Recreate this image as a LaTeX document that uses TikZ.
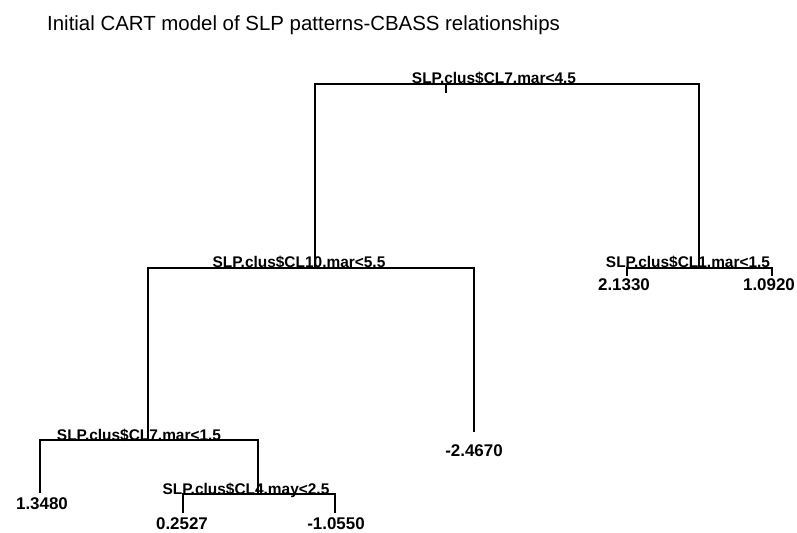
\documentclass[tikz,border=0pt]{standalone}
\usepackage{fontspec}
\setmainfont{Liberation Sans}
\usetikzlibrary{positioning,calc}

\tikzstyle{split} = [font=\fontsize{15.5}{16}\selectfont\bfseries, inner sep=0pt, anchor=base]
\tikzstyle{leaf} = [font=\fontsize{17}{17}\selectfont\bfseries, inner sep=0pt]
\tikzstyle{branch} = [line width=1.3bp, black]

\begin{document}
\begin{tikzpicture}[x=1bp, y=-1bp]
    \useasboundingbox (0,0) rectangle (797,533);

    % title
    \node[anchor=base west, inner sep=0pt, font=\fontsize{20.5}{20}\selectfont] (title) at (47,31)
        {Initial CART model of SLP patterns-CBASS relationships};

    % split points of the tree
    \coordinate (n1) at (446,84);
    \coordinate (stem) at (446,93);
    \coordinate (n2) at (315,268);
    \coordinate (n3) at (699,268);
    \coordinate (n4) at (148,440);
    \coordinate (n9) at (258,494);

    % ends of the leaves
    \coordinate (n5) at (474,432);
    \coordinate (n6) at (627,276);
    \coordinate (n7) at (772,276);
    \coordinate (n8) at (40,493);
    \coordinate (n18) at (183,513);
    \coordinate (n19) at (335,513);

    % branches
    \draw[branch] (n1) -- (stem);
    \draw[branch] (n2) |- (n1) -| (n3);
    \draw[branch] (n4) |- (n2) -| (n5);
    \draw[branch] (n6) |- (n3) -| (n7);
    \draw[branch] (n8) |- (n4) -| (n9);
    \draw[branch] (n18) |- (n9) -| (n19);

    % split rules
    \node[split] (s1) at (494,84) {SLP.clus\$CL7.mar<4.5};
    \node[split] (s2) at (299,268) {SLP.clus\$CL10.mar<5.5};
    \node[split] (s3) at (688,268) {SLP.clus\$CL1.mar<1.5};
    \node[split] (s4) at (139,440) {SLP.clus\$CL7.mar<1.5};
    \node[split] (s9) at (246,494) {SLP.clus\$CL4.may<2.5};

    % fitted values
    \node[leaf] (v5) at (474,451) {-2.4670};
    \node[leaf] (v6) at (624,285) {2.1330};
    \node[leaf] (v7) at (769,285) {1.0920};
    \node[leaf] (v8) at (42,504) {1.3480};
    \node[leaf] (v18) at (182,524) {0.2527};
    \node[leaf] (v19) at (336,524) {-1.0550};
\end{tikzpicture}
\end{document}
